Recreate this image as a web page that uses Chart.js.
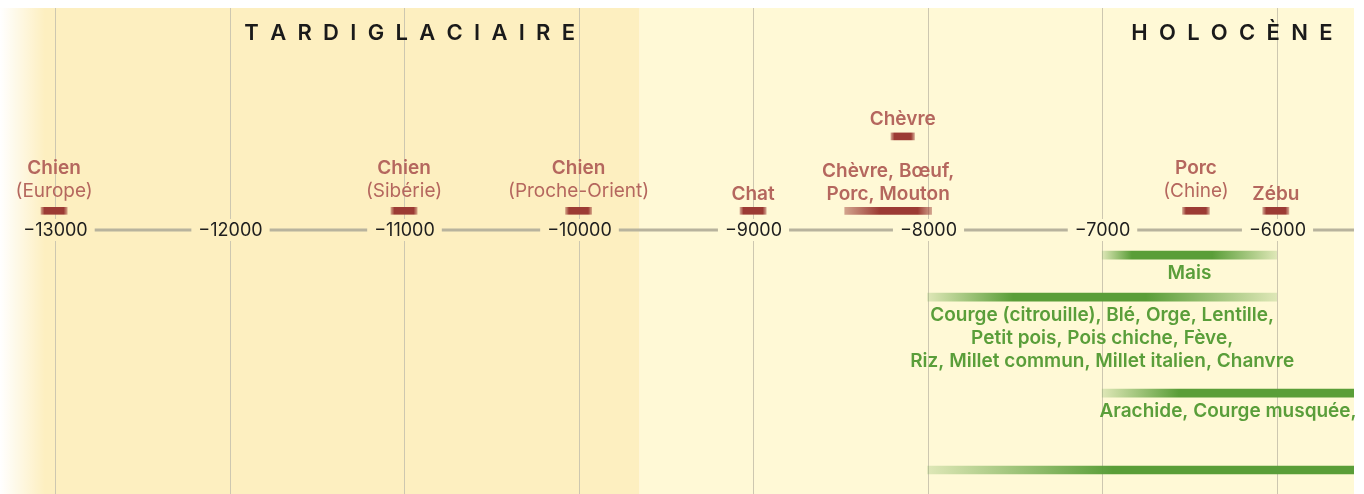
<!DOCTYPE html>
<html>
<head>
<meta charset="utf-8">
<script src="https://cdn.jsdelivr.net/npm/chart.js@4/dist/chart.umd.min.js"></script>
<style>
  html, body { margin: 0; background: #fff; }
  #wrap { width: 1364px; height: 494px; }
</style>
</head>
<body>
<div id="wrap"><canvas id="timeline"></canvas></div>
<script>
// years (negative = BC)
const tickYears = [-13000, -12000, -11000, -10000, -9000, -8000, -7000, -6000];
const axisMin = -13315;
const axisMax = -5557;

const periods = ['TARDIGLACIAIRE', 'HOLOCÈNE'];
const periodStart = [-13315, -9650];
const periodEnd = [-9650, -5557];
const periodLabelEnd = [-10020, -5680];

// animal domestications
const animalNames = ['Chien', 'Chien', 'Chien', 'Chat', 'Chèvre, Bœuf,\nPorc, Mouton', 'Chèvre', 'Porc', 'Zébu'];
const animalPlaces = ['(Europe)', '(Sibérie)', '(Proche-Orient)', '', '', '', '(Chine)', ''];
const animalFrom = [-13080, -11075, -10075, -9075, -8475, -8210, -6540, -6080];
const animalTo = [-12930, -10925, -9925, -8925, -7977, -8075, -6385, -5930];
const animalLane = [0.8, 0.8, 0.8, 0.8, 0.8, 3.9, 0.8, 0.8];
const animalFadeIn = [20, 20, 20, 20, 200, 20, 20, 20];
const animalFadeOut = [20, 20, 20, 20, 80, 20, 20, 20];

// plant domestications
const plantNames = [
  'Mais',
  'Courge (citrouille), Blé, Orge, Lentille,\nPetit pois, Pois chiche, Fève,\nRiz, Millet commun, Millet italien, Chanvre',
  'Arachide, Courge musquée,',
  ''
];
const plantFrom = [-7000, -8000, -7000, -8000];
const plantTo = [-6000, -6000, -5000, -5000];
const plantLane = [-1.05, -2.8, -6.8, -10];
const plantFadeIn = [170, 490, 440, 1060];
const plantFadeOut = [370, 750, 0, 0];

const regionColors = ['#fdefc0', '#fff9d6'];
const red = '#9c3b34', redPale = 'rgba(156,59,52,0.45)', redText = '#b5675e';
const green = '#5a9e38', greenPale = 'rgba(90,158,56,0.2)', greenText = '#5a9e3a';
const FONT = 'Inter, "Noto Sans", sans-serif';

function barFill(c, from, to, fadeIn, fadeOut, color, pale) {
  const chart = c.chart;
  if (!chart.chartArea || c.dataIndex === undefined) return color;
  const xs = chart.scales.x;
  const f = from[c.dataIndex], t = to[c.dataIndex];
  const x0 = xs.getPixelForValue(f), x1 = xs.getPixelForValue(t);
  const g = chart.ctx.createLinearGradient(x0, 0, x1, 0);
  const a = fadeIn[c.dataIndex] / (t - f);
  const b = 1 - fadeOut[c.dataIndex] / (t - f);
  g.addColorStop(0, a > 0 ? pale : color);
  g.addColorStop(a, color);
  g.addColorStop(b, color);
  g.addColorStop(1, b < 1 ? pale : color);
  return g;
}

function tickText(v) {
  return '\u2212' + Math.abs(v);
}

const decor = {
  id: 'decor',
  beforeDatasetsDraw(chart) {
    const { ctx, chartArea: a, scales: { x, y } } = chart;
    ctx.save();
    periods.forEach((p, i) => {
      const l = x.getPixelForValue(periodStart[i]);
      const r = x.getPixelForValue(periodEnd[i]);
      ctx.fillStyle = regionColors[i];
      ctx.fillRect(l, a.top, r - l, a.bottom - a.top);
    });
    const fade = ctx.createLinearGradient(a.left, 0, a.left + 45, 0);
    fade.addColorStop(0, 'rgba(255,255,255,1)');
    fade.addColorStop(1, 'rgba(255,255,255,0)');
    ctx.fillStyle = fade;
    ctx.fillRect(a.left, a.top, 45, a.bottom - a.top);

    const axisY = y.getPixelForValue(0);
    ctx.font = '18px ' + FONT;
    ctx.textAlign = 'center';
    ctx.textBaseline = 'middle';
    let prevRight = null;
    tickYears.forEach(t => {
      const px = Math.round(x.getPixelForValue(t)) + 0.5;
      const txt = tickText(t);
      const w = ctx.measureText(txt).width;
      // grid line
      ctx.strokeStyle = '#cdc7b0';
      ctx.lineWidth = 1;
      ctx.beginPath();
      ctx.moveTo(px, a.top);
      ctx.lineTo(px, axisY - 11);
      ctx.moveTo(px, axisY + 11);
      ctx.lineTo(px, a.bottom);
      ctx.stroke();
      // axis segment
      if (prevRight !== null) {
        ctx.strokeStyle = '#b8b39d';
        ctx.lineWidth = 3;
        ctx.beginPath();
        ctx.moveTo(prevRight + 7, axisY);
        ctx.lineTo(px - w / 2 - 7, axisY);
        ctx.stroke();
      }
      prevRight = px + w / 2;
      ctx.fillStyle = '#1e1e1e';
      ctx.fillText(txt, px, axisY + 1);
    });
    ctx.strokeStyle = '#b8b39d';
    ctx.lineWidth = 3;
    ctx.beginPath();
    ctx.moveTo(prevRight + 7, axisY);
    ctx.lineTo(a.right, axisY);
    ctx.stroke();
    ctx.restore();
  },
  afterDatasetsDraw(chart) {
    const { ctx, chartArea: a, scales: { x, y } } = chart;
    ctx.save();
    ctx.textAlign = 'center';
    ctx.textBaseline = 'middle';

    // animal labels, stacked above the bar
    animalNames.forEach((name, i) => {
      const cx = x.getPixelForValue((animalFrom[i] + animalTo[i]) / 2);
      const by = y.getPixelForValue(animalLane[i]);
      const lines = name.split('\n').map(s => ({ s, bold: true }));
      if (animalPlaces[i]) lines.push({ s: animalPlaces[i], bold: false });
      const gap = animalPlaces[i] ? 20 : 17;
      ctx.fillStyle = redText;
      lines.forEach((ln, k) => {
        ctx.font = (ln.bold ? '600 ' : '400 ') + '19px ' + FONT;
        ctx.fillText(ln.s, cx, by - gap - (lines.length - 1 - k) * 23);
      });
    });

    // plant labels, below the bar
    ctx.fillStyle = greenText;
    ctx.font = '600 19px ' + FONT;
    plantNames.forEach((name, i) => {
      if (!name) return;
      const l = Math.max(a.left, x.getPixelForValue(plantFrom[i]));
      const r = Math.min(a.right, x.getPixelForValue(plantTo[i]));
      const by = y.getPixelForValue(plantLane[i]);
      name.split('\n').forEach((s, k) => {
        ctx.fillText(s, (l + r) / 2, by + 18 + k * 23);
      });
    });

    // period headers, letter spaced
    ctx.fillStyle = '#1a1a1a';
    ctx.font = '600 22px ' + FONT;
    ctx.textAlign = 'left';
    const spacing = 11.3;
    periods.forEach((p, i) => {
      const chars = [...p];
      const widths = chars.map(ch => ctx.measureText(ch).width);
      const total = widths.reduce((s, w) => s + w, 0) + spacing * (chars.length - 1);
      let cx = x.getPixelForValue(periodLabelEnd[i]) - total;
      chars.forEach((ch, k) => {
        ctx.fillText(ch, cx, a.top + 25);
        cx += widths[k] + spacing;
      });
    });
    ctx.restore();
  }
};

new Chart(document.getElementById('timeline'), {
  type: 'bar',
  data: {
    datasets: [
      {
        label: 'Animaux',
        data: animalFrom.map((f, i) => ({ x: [f, animalTo[i]], y: animalLane[i] })),
        backgroundColor: c => barFill(c, animalFrom, animalTo, animalFadeIn, animalFadeOut, red, redPale),
        barThickness: 7
      },
      {
        label: 'Plantes',
        data: plantFrom.map((f, i) => ({ x: [f, plantTo[i]], y: plantLane[i] })),
        backgroundColor: c => barFill(c, plantFrom, plantTo, plantFadeIn, plantFadeOut, green, greenPale),
        barThickness: 8
      }
    ]
  },
  options: {
    indexAxis: 'y',
    responsive: true,
    maintainAspectRatio: false,
    animation: false,
    grouped: false,
    layout: { padding: { top: 8, right: 10, left: 0, bottom: 0 } },
    scales: {
      x: { type: 'linear', min: axisMin, max: axisMax, display: false },
      y: { type: 'linear', min: -11, max: 9.25, offset: false, display: false }
    },
    plugins: { legend: { display: false }, tooltip: { enabled: false } }
  },
  plugins: [decor]
});
</script>
</body>
</html>
